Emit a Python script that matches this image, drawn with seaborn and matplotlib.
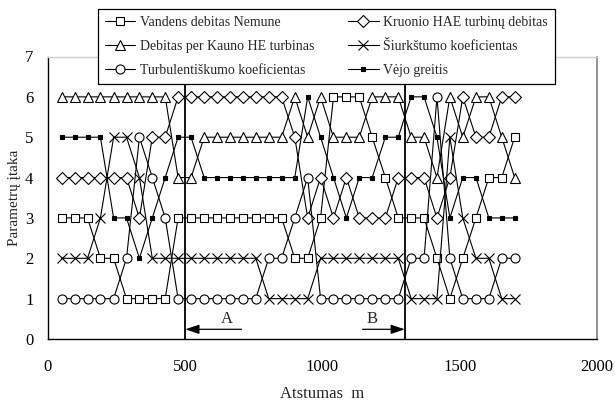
import numpy as np
import pandas as pd
import matplotlib
matplotlib.use("Agg")
import matplotlib.pyplot as plt
import seaborn as sns

# ---- data ----
distance = [50, 97, 144, 191, 239, 286, 333, 380, 427, 474, 521, 569,
            616, 663, 710, 757, 804, 851, 899, 946, 993, 1040, 1087, 1134,
            1181, 1229, 1276, 1323, 1370, 1417, 1464, 1511, 1559, 1606, 1653, 1700]

vandens = [3, 3, 3, 2, 2, 1, 1, 1, 1, 3, 3, 3, 3, 3, 3, 3, 3, 3,
           2, 2, 3, 6, 6, 6, 5, 4, 3, 3, 3, 2, 1, 2, 3, 4, 4, 5]
kruonio = [4, 4, 4, 4, 4, 4, 3, 5, 5, 6, 6, 6, 6, 6, 6, 6, 6, 6,
           5, 3, 4, 3, 4, 3, 3, 3, 4, 4, 4, 3, 4, 6, 5, 5, 6, 6]
kauno = [6, 6, 6, 6, 6, 6, 6, 6, 6, 4, 4, 5, 5, 5, 5, 5, 5, 5,
         6, 5, 6, 5, 5, 5, 6, 6, 6, 5, 5, 4, 6, 5, 6, 6, 5, 4]
siurkstumo = [2, 2, 2, 3, 5, 5, 4, 2, 2, 2, 2, 2, 2, 2, 2, 2, 1, 1,
              1, 1, 2, 2, 2, 2, 2, 2, 2, 1, 1, 1, 5, 3, 2, 2, 1, 1]
turbulent = [1, 1, 1, 1, 1, 2, 5, 4, 3, 1, 1, 1, 1, 1, 1, 1, 2, 2,
             3, 4, 1, 1, 1, 1, 1, 1, 1, 2, 2, 6, 2, 1, 1, 1, 2, 2]
vejo = [5, 5, 5, 5, 3, 3, 2, 3, 4, 5, 5, 4, 4, 4, 4, 4, 4, 4,
        4, 6, 5, 4, 3, 4, 4, 5, 5, 6, 6, 5, 3, 4, 4, 3, 3, 3]

labels = ["Vandens debitas Nemune", "Kruonio HAE turbinų debitas",
          "Debitas per Kauno HE turbinas", "Šiurkštumo koeficientas",
          "Turbulentiškumo koeficientas", "Vėjo greitis"]
x_ticks = [0, 500, 1000, 1500, 2000]
y_ticks = [0, 1, 2, 3, 4, 5, 6, 7]
bounds = [500, 1300]
arrow_labels = ["A", "B"]

series = [vandens, kruonio, kauno, siurkstumo, turbulent, vejo]

# ---- style ----
sns.set_style("white")
plt.rcParams["font.family"] = ["Liberation Serif", "DejaVu Serif"]

styles = [
    dict(marker="s", markersize=5.4, markerfacecolor="white"),
    dict(marker="D", markersize=6.0, markerfacecolor="white"),
    dict(marker="^", markersize=7.0, markerfacecolor="white"),
    dict(marker="x", markersize=6.5, markerfacecolor="black"),
    dict(marker="o", markersize=6.5, markerfacecolor="white"),
    dict(marker="s", markersize=3.2, markerfacecolor="black"),
]

fig = plt.figure(figsize=(6.15, 4.03), dpi=100)
ax = fig.add_axes([48 / 615, 1 - 339 / 403, (597 - 48) / 615, (339 - 56.5) / 403])

for vals, lab, st in zip(series, labels, styles):
    df = pd.DataFrame({"x": distance, "y": vals})
    sns.lineplot(data=df, x="x", y="y", ax=ax, color="black", linewidth=0.8,
                 markeredgecolor="black", markeredgewidth=0.8, label=lab,
                 zorder=3, **st)

ax.vlines(bounds, 0, 7, color="black", linewidth=1.3, zorder=2)

ax.annotate("", xy=(bounds[0], 0.24), xytext=(705, 0.24),
            arrowprops=dict(arrowstyle="-|>,head_length=0.6,head_width=0.2",
                            color="black", lw=0.9, mutation_scale=14,
                            shrinkA=0, shrinkB=0))
ax.annotate("", xy=(bounds[1], 0.24), xytext=(1146, 0.24),
            arrowprops=dict(arrowstyle="-|>,head_length=0.6,head_width=0.2",
                            color="black", lw=0.9, mutation_scale=14,
                            shrinkA=0, shrinkB=0))
ax.text(651, 0.5, arrow_labels[0], fontsize=12, ha="center", va="center")
ax.text(1181, 0.5, arrow_labels[1], fontsize=12, ha="center", va="center")

ax.set_xlim(0, 2000)
ax.set_ylim(0, 7)
ax.set_xticks(x_ticks)
ax.set_yticks(y_ticks)
ax.tick_params(axis="both", which="major", direction="out", length=4.5, width=0.8,
               color="black", labelsize=12, labelcolor="black")
ax.tick_params(axis="x", pad=10)
ax.tick_params(axis="y", pad=6)
ax.set_xlabel("Atstumas  m", fontsize=12, labelpad=8)
ax.set_ylabel("Parametrų įtaka", fontsize=11, labelpad=3)

for side in ["left", "bottom"]:
    ax.spines[side].set_color("black")
    ax.spines[side].set_linewidth(1.0)
ax.spines["top"].set_color("#cfcfcf")
ax.spines["top"].set_linewidth(1.0)
ax.spines["right"].set_color("#808080")
ax.spines["right"].set_linewidth(1.2)

handles, labs = ax.get_legend_handles_labels()
order = [0, 2, 4, 1, 3, 5]
leg = ax.legend([handles[i] for i in order], [labs[i] for i in order],
                ncol=2, loc="upper center", bbox_to_anchor=(326.5 / 615, 1 - 9 / 403),
                bbox_transform=fig.transFigure, fontsize=10, frameon=True,
                fancybox=False, edgecolor="black", framealpha=1,
                handlelength=2.2, handletextpad=0.35, columnspacing=2.4,
                labelspacing=0.78, borderaxespad=0, borderpad=0.5)
leg.get_frame().set_linewidth(0.9)
leg.set_zorder(10)

fig.savefig("out.png", dpi=100)
